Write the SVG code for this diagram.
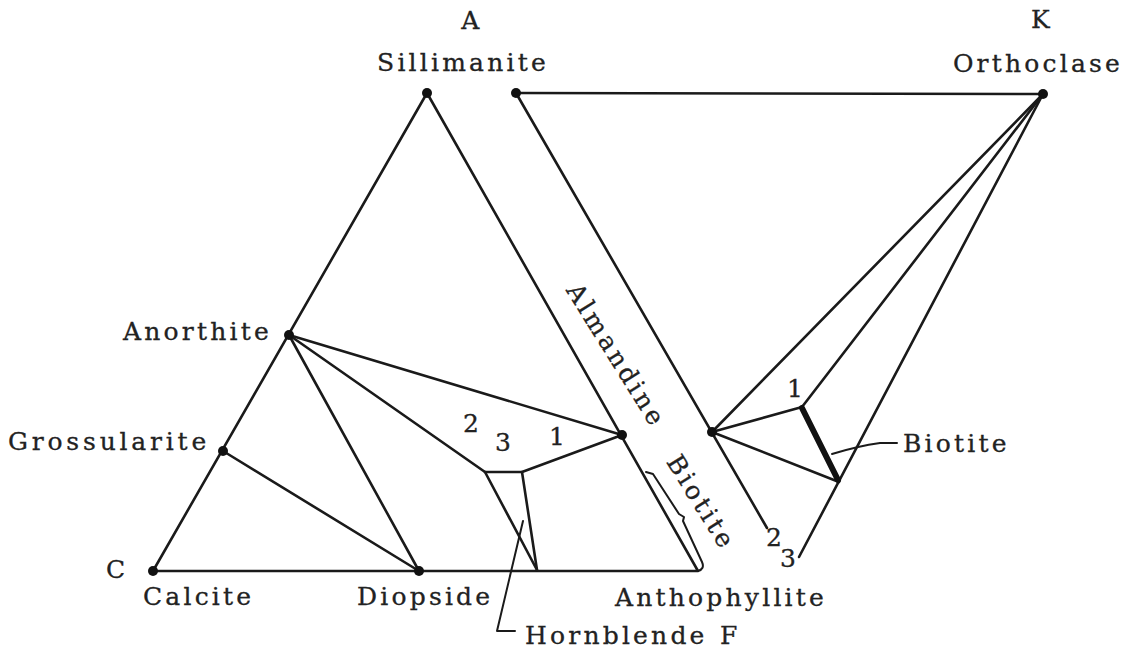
<svg xmlns="http://www.w3.org/2000/svg" width="1128" height="653" viewBox="0 0 1128 653">
<style>
.ln{stroke:#1a1a1a;stroke-width:2.6;fill:none;stroke-linecap:round;stroke-linejoin:round}
.thin{stroke:#1a1a1a;stroke-width:2;fill:none;stroke-linecap:round;stroke-linejoin:round}
.thick{stroke:#111;stroke-width:6;fill:none;stroke-linecap:round}
.dot{fill:#111}
text{font-family:"DejaVu Serif","Liberation Serif",serif;font-size:25px;fill:#222;stroke:#222;stroke-width:0.3;letter-spacing:3.2px}
.mid{text-anchor:middle}
</style>
<rect width="1128" height="653" fill="#fff"/>
<g id="connectors">
  <path class="ln" d="M427 93 L153 571 L698 571 Z"/>
  <line class="ln" x1="289" y1="335" x2="419" y2="571"/>
  <line class="ln" x1="289" y1="335" x2="622" y2="435"/>
  <line class="ln" x1="289" y1="335" x2="485" y2="472"/>
  <line class="ln" x1="223" y1="451" x2="419" y2="571"/>
  <path class="ln" d="M485 472 L522 472 L622 435"/>
  <line class="ln" x1="485" y1="472" x2="537" y2="570"/>
  <line class="ln" x1="522" y1="472" x2="537" y2="570"/>
  <path class="thin" d="M523 521 L497 631 L515 631"/>
  <path class="thin" d="M646 472 L653 474 L679 514 L684 517 L683 521 L702 562 Q705 569 698 571"/>
  <line class="ln" x1="516" y1="93" x2="767" y2="528"/>
  <line class="ln" x1="516" y1="93" x2="1043" y2="94"/>
  <line class="ln" x1="1043" y1="94" x2="712" y2="432"/>
  <line class="ln" x1="1043" y1="94" x2="802" y2="407"/>
  <line class="ln" x1="1043" y1="94" x2="799" y2="557"/>
  <line class="ln" x1="712" y1="432" x2="802" y2="407"/>
  <line class="ln" x1="712" y1="432" x2="839" y2="482"/>
  <line class="thick" x1="802" y1="408" x2="838" y2="480"/>
  <path class="thin" d="M832 454 Q858 446 880 443 L897 443"/>
</g>
<g id="node-sillimanite">
  <circle class="dot" cx="427" cy="93" r="5"/>
  <text class="mid" x="472" y="29">A</text>
  <text class="mid" x="463" y="71">Sillimanite</text>
</g>
<g id="node-almandine-top">
  <circle class="dot" cx="516" cy="93" r="5"/>
</g>
<g id="node-orthoclase">
  <circle class="dot" cx="1043" cy="94" r="5"/>
  <text class="mid" x="1042" y="28">K</text>
  <text class="mid" x="1038" y="72">Orthoclase</text>
</g>
<g id="node-anorthite">
  <circle class="dot" cx="289" cy="335" r="5"/>
  <text x="123" y="340">Anorthite</text>
</g>
<g id="node-grossularite">
  <circle class="dot" cx="223" cy="451" r="5"/>
  <text x="8" y="450" style="letter-spacing:3.8px">Grossularite</text>
</g>
<g id="node-calcite">
  <circle class="dot" cx="153" cy="571" r="5"/>
  <text x="106" y="578">C</text>
  <text x="143" y="605">Calcite</text>
</g>
<g id="node-diopside">
  <circle class="dot" cx="419" cy="571" r="5"/>
  <text x="357" y="605">Diopside</text>
</g>
<g id="node-anthophyllite">
  <text x="615" y="606">Anthophyllite</text>
  <text x="720" y="644">F</text>
</g>
<g id="node-hornblende">
  <text x="525" y="644">Hornblende</text>
  <text x="463" y="432">2</text>
  <text x="495" y="451">3</text>
  <text x="549" y="445">1</text>
</g>
<g id="node-almandine">
  <circle class="dot" cx="622" cy="435" r="5"/>
  <text class="mid" transform="translate(609,360) rotate(58)">Almandine</text>
</g>
<g id="node-biotite-band">
  <text class="mid" transform="translate(694,507) rotate(58)">Biotite</text>
</g>
<g id="node-biotite">
  <circle class="dot" cx="712" cy="432" r="5"/>
  <text x="787" y="397">1</text>
  <text x="766" y="546">2</text>
  <text x="780" y="567">3</text>
  <text x="903" y="452">Biotite</text>
</g>
</svg>
